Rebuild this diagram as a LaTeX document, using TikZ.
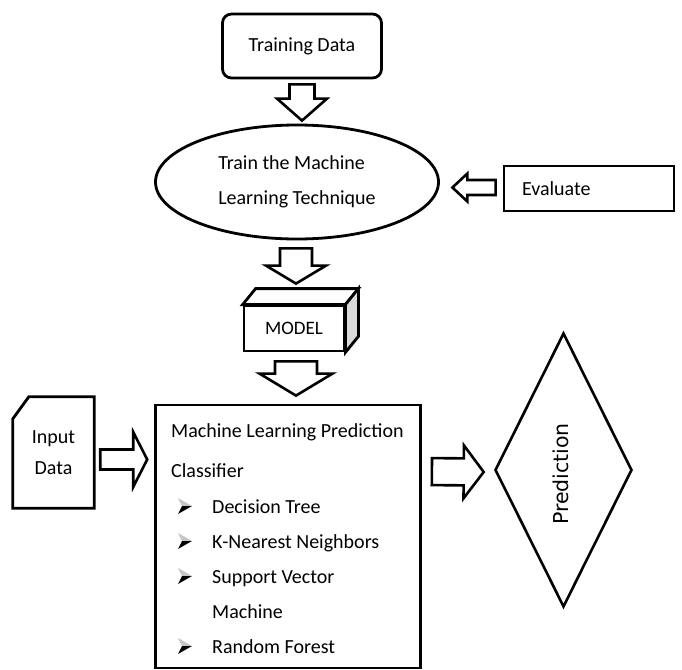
\documentclass[tikz,border=0pt]{standalone}
\usepackage{fontspec}
\setmainfont{Carlito}
\newfontfamily\dejavusans{DejaVu Sans}
\usetikzlibrary{calc,shapes.geometric}

% Hollow block arrow: #1 tail, #2 tip, #3 shaft half-width,
% #4 head half-width, #5 head length
\newcommand\blockarrow[5]{%
  \coordinate (ba-neck) at ($(#2)!#5!(#1)$);
  \draw[hollow arrow]
    ($(#1)!#3!90:(#2)$) -- ($(ba-neck)!#3!90:(#2)$) --
    ($(ba-neck)!#4!90:(#2)$) -- (#2) --
    ($(ba-neck)!#4!-90:(#2)$) -- ($(ba-neck)!#3!-90:(#2)$) --
    ($(#1)!#3!-90:(#2)$) -- cycle;
}

\begin{document}
\begin{tikzpicture}[x=1pt,y=-1pt,
  shape line/.style={draw, line width=2.8pt, fill=white},
  outline/.style={draw, line width=2.8pt, line join=miter},
  hollow arrow/.style={draw, line width=2.6pt, fill=white, line join=miter},
  label/.style={font=\fontsize{20}{24}\selectfont, inner sep=0pt},
  bullet/.pic={
    \fill[gray!45] (0,0) -- (-14,-8) -- (-10,0) -- cycle;
    \fill[black] (0,0) -- (-10,0) -- (-14,8) -- cycle;
  }
]
\useasboundingbox (0,0) rectangle (682,669);

% --- training stage ---
\node[shape line, rounded corners=9pt, minimum width=159pt, minimum height=64pt,
      font=\fontsize{20}{24}\selectfont] (td) at (302,46) {Training Data};

\node[shape line, ellipse, minimum width=283pt, minimum height=114pt,
      inner sep=0pt, align=left, font=\fontsize{20}{35}\selectfont]
      (tr) at (297,182) {Train the Machine\\Learning Technique};

\node[shape line, minimum width=170pt, minimum height=45pt, inner xsep=18pt,
      text width=134pt, align=left, font=\fontsize{20}{24}\selectfont]
      (ev) at (589,188.5) {Evaluate};

% --- model block (cuboid) ---
\node[shape line, minimum width=100pt, minimum height=45pt,
      font=\fontsize{19}{22}\selectfont] (md) at (294,328.5) {MODEL};
\draw[shape line] (md.north west) -- ++(13,-16) -- ($(md.north east)+(13,-16)$)
  -- (md.north east) -- cycle;
\draw[shape line, fill=gray!30] (md.north east) -- ++(13,-16)
  -- ($(md.south east)+(13,-16)$) -- (md.south east) -- cycle;

% --- classifier box ---
\node[shape line, minimum width=265pt, minimum height=263pt] (cl) at (288,536.5) {};
\node[label, anchor=base west] (cl1) at (171,437) {Machine Learning Prediction};
\node[label, anchor=base west] (cl2) at (171,477) {Classifier};
\node[label, anchor=base west] (it1) at (212,513) {Decision Tree};
\node[label, anchor=base west] (it2) at (212,548) {K-Nearest Neighbors};
\node[label, anchor=base west] (it3) at (212,583) {Support Vector};
\node[label, anchor=base west] (it3b) at (212,618) {Machine};
\node[label, anchor=base west] (it4) at (212,653) {Random Forest};
\pic at ($(it1.base west)+(-20,-7)$) {bullet};
\pic at ($(it2.base west)+(-20,-7)$) {bullet};
\pic at ($(it3.base west)+(-20,-7)$) {bullet};
\pic at ($(it4.base west)+(-20,-7)$) {bullet};

% --- input document ---
\node[label, minimum width=81pt, minimum height=111pt, align=center,
      font=\fontsize{20}{31}\selectfont] (in) at (53.5,452.5) {Input\\Data};
\draw[outline] ($(in.north west)+(0,22)$) -- ($(in.north west)+(16,0)$)
  -- (in.north east) -- (in.south east) -- (in.south west) -- cycle;

% --- prediction decision ---
\node[draw, diamond, line width=2.6pt, minimum width=137pt, minimum height=274pt,
      inner sep=0pt] (pr) at (563.5,470) {};
\node[rotate=90, inner sep=0pt, font=\dejavusans\fontsize{20.5}{22}\selectfont]
      (prt) at ($(pr.center)+(-3,4)$) {Prediction};

% --- connectors ---
\coordinate (a1t) at ($(td.south)+(0,5)$);
\coordinate (a1h) at ($(tr.north)+(5,-3)$);
\blockarrow{a1t}{a1h}{12.5pt}{25pt}{22pt}

\coordinate (a2t) at ($(tr.south)+(-1,8)$);
\coordinate (a2h) at ($(md.north)+(2,-21)$);
\blockarrow{a2t}{a2h}{16pt}{30pt}{18pt}

\coordinate (a3t) at ($(md.south)+(2,9)$);
\coordinate (a3h) at ($(cl.north)+(8,-8)$);
\blockarrow{a3t}{a3h}{21pt}{36.5pt}{22pt}

\coordinate (a4t) at ($(ev.west)+(-7,-1)$);
\coordinate (a4h) at ($(tr.east)+(12.5,5.5)$);
\blockarrow{a4t}{a4h}{7.5pt}{14pt}{15pt}

\coordinate (a5t) at ($(in.east)+(6,7)$);
\coordinate (a5h) at ($(in.east)+(53,7)$);
\blockarrow{a5t}{a5h}{10pt}{27.5pt}{14pt}

\coordinate (a6t) at ($(cl.north east)+(10,68)$);
\coordinate (a6h) at ($(pr.west)+(-10,2)$);
\blockarrow{a6t}{a6h}{13.5pt}{26.5pt}{20pt}
\end{tikzpicture}
\end{document}
